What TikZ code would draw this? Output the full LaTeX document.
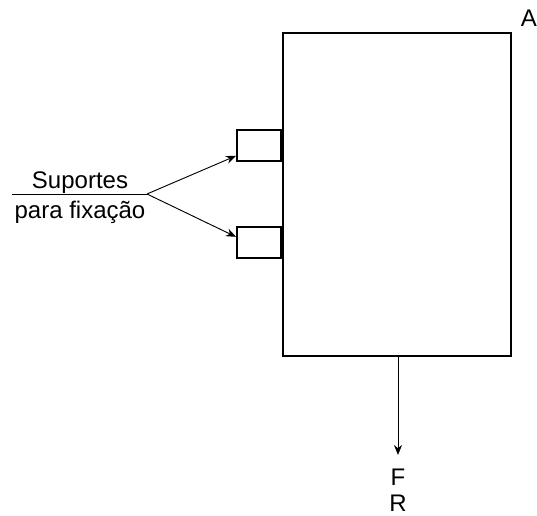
\documentclass[tikz,border=0pt]{standalone}
\usepackage{fontspec}
\setmainfont{Liberation Sans}
\usetikzlibrary{positioning,arrows.meta}
\tikzset{
    frame/.style={draw, line width=1.5pt, inner sep=0pt},
    bracket/.style={draw, line width=1.5pt, inner sep=0pt, minimum width=33pt, minimum height=23pt},
    pointer/.style={->, line width=0.7pt},
    lbl/.style={inner sep=0pt, font=\fontsize{18}{21}\selectfont}
}
\begin{document}
\begin{tikzpicture}[x=0.75pt, y=-0.75pt, >={Stealth[length=7.5pt, width=6pt]}]
    \useasboundingbox (0,0) rectangle (537,516);

    % Main body
    \node[frame, anchor=north west, minimum width=171pt, minimum height=242pt] (body) at (282,32) {};
    \node[lbl, anchor=base] (tagA) at (529,27) {A};

    % Fixing brackets
    \node[bracket, anchor=east] (brkTop) at (282,145.5) {};
    \node[bracket, anchor=east] (brkBot) at (282,242.5) {};

    % Label with leader line
    \node[lbl, anchor=base] (lblTop) at (80,189) {Suportes};
    \node[lbl, anchor=base] (lblBot) at (80,219) {para fixação};
    \coordinate (tail) at (12,194);
    \coordinate (hub) at (147,194);
    \draw[line width=0.7pt] (tail) -- (hub);
    \draw[pointer] (hub) -- ([yshift=4.5pt]brkTop.south west);
    \draw[pointer] (hub) -- ([yshift=-8pt]brkBot.north west);

    % Resultant force
    \coordinate (tipF) at (398,455);
    \draw[pointer] (body.south -| tipF) -- (tipF);
    \node[lbl, anchor=base] (lblF) at (398,486) {F};
    \node[lbl, anchor=base] (lblR) at (398,512) {R};
\end{tikzpicture}
\end{document}
